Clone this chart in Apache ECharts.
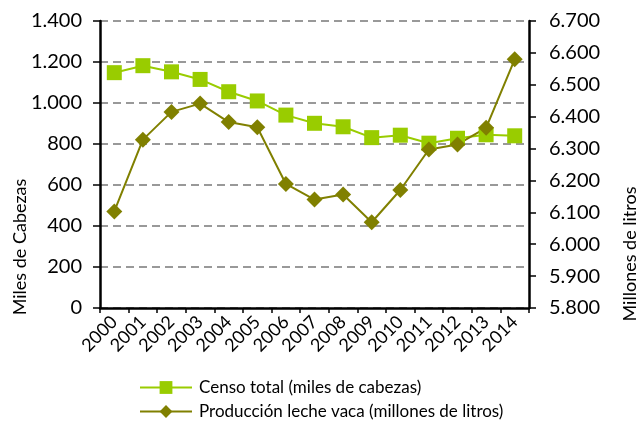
<!DOCTYPE html>
<html>
<head>
<meta charset="utf-8">
<script src="https://cdn.jsdelivr.net/npm/echarts@6/dist/echarts.min.js"></script>
<style>
html,body{margin:0;padding:0;background:#fff;}
#c{width:637px;height:425px;}
</style>
</head>
<body>
<div id="c"></div>
<script>
const years = ['2000','2001','2002','2003','2004','2005','2006','2007','2008','2009','2010','2011','2012','2013','2014'];
const censo = [1148, 1182, 1152, 1115, 1055, 1010, 941, 901, 884, 831, 843, 804, 828, 845, 840];
const produccion = [6103, 6328, 6415, 6441, 6383, 6367, 6189, 6140, 6156, 6069, 6170, 6297, 6313, 6365, 6580];
const seriesNames = ['Censo total (miles de cabezas)', 'Producción leche vaca (millones de litros)'];
const axisNames = ['Miles de Cabezas', 'Millones de litros'];

const FONT = 'Lato, "DejaVu Sans", sans-serif';
function fmt(v){
  const s = String(Math.round(v));
  return s.replace(/\B(?=(\d{3})+(?!\d))/g, '.');
}
const legendCommon = {
  orient:'horizontal', left:139, padding:0, itemWidth:52, itemHeight:16,
  textStyle:{fontSize:17, color:'#000', fontFamily:FONT, padding:[0,0,0,2]}
};

const chart = echarts.init(document.getElementById('c'), null, {renderer:'canvas'});
chart.setOption({
  animation:false,
  backgroundColor:'#fff',
  textStyle:{fontFamily:FONT},
  grid:{left:100, right:108, top:21, bottom:117, containLabel:false},
  legend:[
    Object.assign({}, legendCommon, {top:379, data:[seriesNames[0]]}),
    Object.assign({}, legendCommon, {top:403, data:[seriesNames[1]]})
  ],
  xAxis:{
    type:'category', data:years, boundaryGap:true,
    axisLine:{lineStyle:{color:'#000', width:2.5}},
    axisTick:{show:true, length:5, lineStyle:{color:'#000', width:1.5}},
    axisLabel:{interval:0, rotate:45, margin:11, fontSize:18, color:'#000', fontFamily:FONT}
  },
  yAxis:[{
    type:'value', min:0, max:1400, interval:200, position:'left',
    axisLine:{show:true, lineStyle:{color:'#000', width:2.5}},
    axisTick:{show:true, length:7, lineStyle:{color:'#000', width:1.5}},
    axisLabel:{margin:18, fontSize:20, color:'#000', fontFamily:FONT, formatter:fmt},
    splitLine:{show:true, lineStyle:{color:'#999', width:2, type:[8,5]}}
  },{
    type:'value', min:5800, max:6700, interval:100, position:'right',
    axisLine:{show:true, lineStyle:{color:'#000', width:2.5}},
    axisTick:{show:true, length:7, lineStyle:{color:'#000', width:1.5}},
    axisLabel:{margin:20, fontSize:20, color:'#000', fontFamily:FONT, formatter:fmt},
    splitLine:{show:false}
  }],
  graphic:[
    {type:'text', x:20, y:247, rotation:Math.PI/2, style:{text:axisNames[0], font:'18px '+FONT, fill:'#000', textAlign:'center', textVerticalAlign:'middle'}},
    {type:'text', x:630, y:254, rotation:Math.PI/2, style:{text:axisNames[1], font:'18px '+FONT, fill:'#000', textAlign:'center', textVerticalAlign:'middle'}}
  ],
  series:[{
    name:seriesNames[0], type:'line', yAxisIndex:0, data:censo,
    symbol:'rect', symbolSize:15, showAllSymbol:true,
    lineStyle:{color:'#99CC00', width:2},
    itemStyle:{color:'#99CC00'}
  },{
    name:seriesNames[1], type:'line', yAxisIndex:1, data:produccion,
    symbol:'diamond', symbolSize:16, showAllSymbol:true,
    lineStyle:{color:'#808000', width:2},
    itemStyle:{color:'#808000'}
  }]
});
</script>
</body>
</html>
